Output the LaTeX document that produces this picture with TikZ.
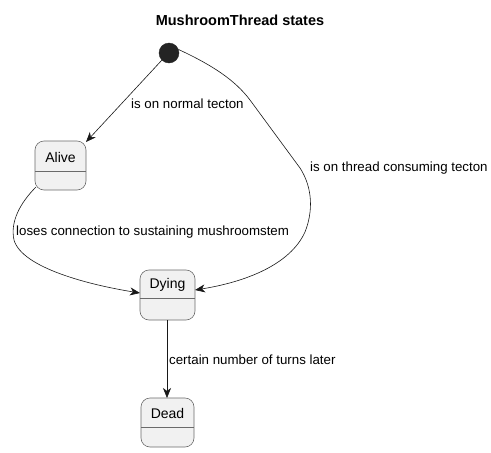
\documentclass[tikz,border=0pt]{standalone}
\usepackage{fontspec}
\setmainfont{Liberation Sans}
\usetikzlibrary{arrows.meta}
\definecolor{boxfill}{HTML}{F1F1F1}
\definecolor{boxline}{HTML}{6A6A6A}
\definecolor{linecol}{HTML}{181818}
\begin{document}
\begin{tikzpicture}[x=1pt,y=-1pt,
  statebox/.style={draw=boxline,fill=boxfill,rounded corners=9pt,line width=0.6pt},
  divider/.style={draw=boxline,line width=0.6pt},
  statename/.style={font=\fontsize{14}{16}\selectfont,text=black},
  edge/.style={draw=linecol,line width=0.6pt,-{Stealth[length=10pt,width=8pt,inset=3pt]}},
  elabel/.style={font=\fontsize{13.3}{15}\selectfont,text=black,inner sep=0pt}]
\useasboundingbox (0,0) rectangle (491,453);
% title
\node[font=\bfseries\fontsize{14.5}{16}\selectfont] (title) at (240,20) {MushroomThread states};
% start
\node[circle,fill=linecol!95,draw=linecol!95,minimum size=20pt,inner sep=0pt] (start) at (169,53) {};
% Alive
\path[statebox] (35,141) rectangle (86,190);
\draw[divider] (35,171) -- (86,171);
\node[statename] (alive) at (60.5,157) {Alive};
\coordinate (aliveTop) at (86,142);
\coordinate (aliveBot) at (36,187);
% Dying
\path[statebox] (140,270) rectangle (195,320);
\draw[divider] (140,298) -- (195,298);
\node[statename] (dying) at (167.5,285) {Dying};
\coordinate (dyingL) at (140,293);
\coordinate (dyingR) at (195,290);
\coordinate (dyingB) at (167,320);
% Dead
\path[statebox] (141,398) rectangle (194,447);
\draw[divider] (141,427) -- (194,427);
\node[statename] (dead) at (167.5,413) {Dead};
\coordinate (deadT) at (167,398);
% edges
\draw[edge] (start.225) -- (aliveTop);
\node[elabel,anchor=west] (l1) at (131,104) {is on normal tecton};
\draw[edge] (start.20) .. controls (212,65) and (235,80) .. (250,100)
  -- (300,168) .. controls (313,188) and (313,212) .. (305,232)
  .. controls (290,265) and (245,282) .. (dyingR);
\node[elabel,anchor=west] (l2) at (310,168) {is on thread consuming tecton};
\draw[edge] (aliveBot) .. controls (20,203) and (10,222) .. (14,240)
  .. controls (22,268) and (90,285) .. (dyingL);
\node[elabel,anchor=west] (l3) at (16,232) {loses connection to sustaining mushroomstem};
\draw[edge] (dyingB) -- (deadT);
\node[elabel,anchor=west] (l4) at (169,360) {certain number of turns later};
\end{tikzpicture}
\end{document}
